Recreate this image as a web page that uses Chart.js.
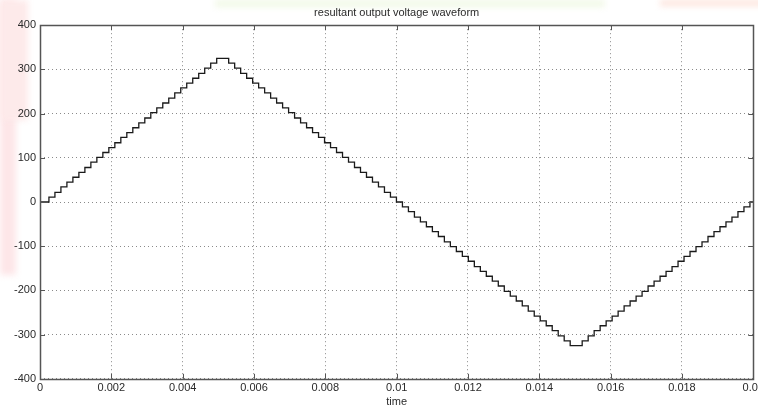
<!DOCTYPE html>
<html>
<head>
<meta charset="utf-8">
<title>resultant output voltage waveform</title>
<script src="https://cdn.jsdelivr.net/npm/chart.js@4.4.0/dist/chart.umd.min.js"></script>
<style>
  html, body { margin: 0; padding: 0; background: #fff; overflow: hidden; width: 758px; height: 407px; }
  #lienzo { position: relative; width: 767px; height: 407px; }
  .mancha { position: absolute; filter: blur(3px); }
  #mancha-izq { left: 0; top: 0; width: 16px; height: 275px; background: #fde6e8; }
  #mancha-izq2 { left: 0; top: 0; width: 28px; height: 120px; background: #fdeaea; }
  #mancha-sup { left: 215px; top: 0; width: 390px; height: 7px; background: #f1f9e6; }
  #mancha-der { left: 660px; top: 0; width: 110px; height: 6px; background: #fde4dc; }
  canvas { position: absolute; left: 0; top: 0; }
</style>
</head>
<body>
<div id="lienzo">
  <div class="mancha" id="mancha-izq"></div>
  <div class="mancha" id="mancha-izq2"></div>
  <div class="mancha" id="mancha-sup"></div>
  <div class="mancha" id="mancha-der"></div>
  <canvas id="grafico" width="767" height="407"></canvas>
</div>
<script>
// ==================== DATOS ====================

// Instante en que empieza cada escalon (s)
const tiemposEscalon = [
  0, 0.000250, 0.000418, 0.000586, 0.000754, 0.000922, 0.001090, 0.001258, 0.001426, 0.001594,
  0.001762, 0.001930, 0.002098, 0.002266, 0.002434, 0.002602, 0.002770, 0.002938, 0.003106, 0.003274,
  0.003442, 0.003610, 0.003778, 0.003946, 0.004114, 0.004282, 0.004450, 0.004618, 0.004786, 0.004954,
  0.005122, 0.005290, 0.005458, 0.005626, 0.005794, 0.005962, 0.006130, 0.006298, 0.006466, 0.006634,
  0.006802, 0.006970, 0.007138, 0.007306, 0.007474, 0.007642, 0.007810, 0.007978, 0.008146, 0.008314,
  0.008482, 0.008650, 0.008818, 0.008986, 0.009154, 0.009322, 0.009490, 0.009658, 0.009826, 0.009994,
  0.010162, 0.010330, 0.010498, 0.010666, 0.010834, 0.011002, 0.011170, 0.011338, 0.011506, 0.011674,
  0.011842, 0.012010, 0.012178, 0.012346, 0.012514, 0.012682, 0.012850, 0.013018, 0.013186, 0.013354,
  0.013522, 0.013690, 0.013858, 0.014026, 0.014194, 0.014362, 0.014530, 0.014698, 0.014866, 0.015034,
  0.015202, 0.015370, 0.015538, 0.015706, 0.015874, 0.016042, 0.016210, 0.016378, 0.016546, 0.016714,
  0.016882, 0.017050, 0.017218, 0.017386, 0.017554, 0.017722, 0.017890, 0.018058, 0.018226, 0.018394,
  0.018562, 0.018730, 0.018898, 0.019066, 0.019234, 0.019402, 0.019570, 0.019738, 0.019906, 0.020000
];

// Nivel de tension de cada escalon (V)
const nivelesTension = [
  0, 11, 22, 34, 45, 56, 67, 78, 90, 101,
  112, 123, 134, 146, 157, 168, 179, 190, 202, 213,
  224, 235, 247, 258, 269, 280, 291, 303, 314, 325,
  325, 314, 303, 291, 280, 269, 258, 247, 235, 224,
  213, 202, 190, 179, 168, 157, 146, 134, 123, 112,
  101, 90, 78, 67, 56, 45, 34, 22, 11, 0,
  -11, -22, -34, -45, -56, -67, -78, -90, -101, -112,
  -123, -134, -146, -157, -168, -179, -190, -202, -213, -224,
  -235, -247, -258, -269, -280, -291, -303, -314, -325, -325,
  -314, -303, -291, -280, -269, -258, -247, -235, -224, -213,
  -202, -190, -179, -168, -157, -146, -134, -123, -112, -101,
  -90, -78, -67, -56, -45, -34, -22, -11, 0, 0
];

const ticksTiempo = [0, 0.002, 0.004, 0.006, 0.008, 0.01, 0.012, 0.014, 0.016, 0.018, 0.02];
const ticksTension = [-400, -300, -200, -100, 0, 100, 200, 300, 400];

// ==================== ESTILO ====================

const FUENTE = "'Liberation Sans', Arial, Helvetica, sans-serif";
const COLOR_TEXTO = '#2a2a2a';
const COLOR_EJES = '#555555';

function formatearTick(valor) {
  return String(parseFloat(Number(valor).toFixed(4)));
}

// Caja estilo MATLAB con marcas hacia adentro
const cajaMatlab = {
  id: 'cajaMatlab',
  afterDraw(chart) {
    const { ctx, chartArea, scales } = chart;
    const { left, right, top, bottom } = chartArea;
    const largo = 5;
    ctx.save();
    ctx.strokeStyle = COLOR_EJES;
    ctx.lineWidth = 1;
    ctx.beginPath();
    ticksTiempo.forEach(v => {
      const x = Math.round(scales.x.getPixelForValue(v)) + 0.5;
      ctx.moveTo(x, bottom); ctx.lineTo(x, bottom - largo);
      ctx.moveTo(x, top); ctx.lineTo(x, top + largo);
    });
    ticksTension.forEach(v => {
      const y = Math.round(scales.y.getPixelForValue(v)) + 0.5;
      ctx.moveTo(left, y); ctx.lineTo(left + largo, y);
      ctx.moveTo(right, y); ctx.lineTo(right - largo, y);
    });
    ctx.stroke();
    ctx.lineWidth = 1.5;
    ctx.strokeRect(Math.round(left) + 0.5, Math.round(top) + 0.5,
      Math.round(right - left), Math.round(bottom - top));
    ctx.restore();
  }
};

// ==================== GRAFICO ====================

function crearGrafico() {
  const puntos = tiemposEscalon.map((t, i) => ({ x: t, y: nivelesTension[i] }));
  const ctx = document.getElementById('grafico').getContext('2d');

  new Chart(ctx, {
    type: 'line',
    data: {
      datasets: [{
        label: 'tension',
        data: puntos,
        stepped: true,
        borderColor: '#1a1a1a',
        borderWidth: 1.3,
        pointRadius: 0,
        fill: false
      }]
    },
    options: {
      responsive: false,
      animation: false,
      layout: { padding: { left: 10, right: 0, top: 0, bottom: -2 } },
      plugins: {
        legend: { display: false },
        tooltip: { enabled: false },
        title: {
          display: true,
          fullSize: false,
          text: 'resultant output voltage waveform',
          color: COLOR_TEXTO,
          font: { family: FUENTE, size: 11, weight: 'normal' },
          padding: { top: 6, bottom: 6 }
        }
      },
      scales: {
        x: {
          type: 'linear',
          min: 0,
          max: 0.02,
          afterBuildTicks: axis => { axis.ticks = ticksTiempo.map(v => ({ value: v })); },
          ticks: {
            callback: formatearTick,
            color: COLOR_TEXTO,
            font: { family: FUENTE, size: 11 },
            padding: 3,
            maxRotation: 0,
            autoSkip: false
          },
          grid: { color: '#8a8a8a', drawTicks: false, lineWidth: 1 },
          border: { display: false, dash: [1, 3] },
          title: {
            display: true,
            text: 'time',
            color: COLOR_TEXTO,
            font: { family: FUENTE, size: 11, lineHeight: 1 },
            padding: { top: -2, bottom: 2 }
          }
        },
        y: {
          min: -400,
          max: 400,
          afterBuildTicks: axis => { axis.ticks = ticksTension.map(v => ({ value: v })); },
          ticks: {
            callback: formatearTick,
            color: COLOR_TEXTO,
            font: { family: FUENTE, size: 11 },
            padding: 4,
            autoSkip: false
          },
          grid: { color: '#8a8a8a', drawTicks: false, lineWidth: 1 },
          border: { display: false, dash: [1, 3] }
        }
      }
    },
    plugins: [cajaMatlab]
  });
}

if (document.readyState === 'loading') {
  document.addEventListener('DOMContentLoaded', crearGrafico);
} else {
  crearGrafico();
}
</script>
</body>
</html>
